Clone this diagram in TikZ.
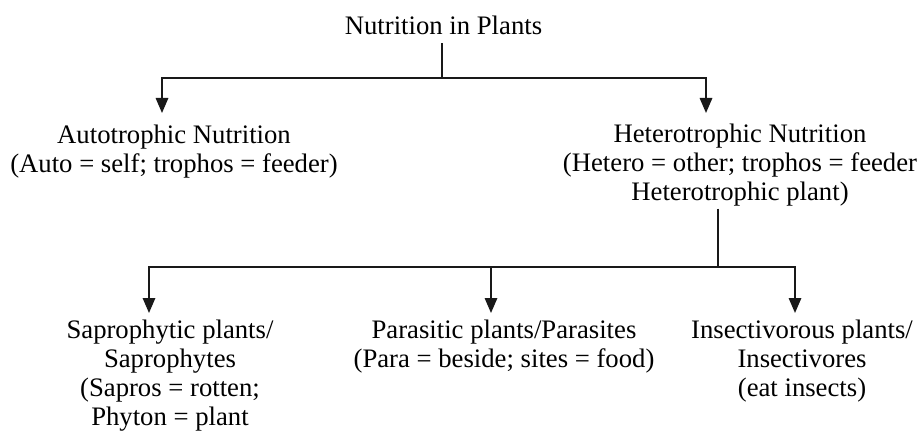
\documentclass[tikz,border=0pt]{standalone}
\usepackage{fontspec}
\setmainfont{Liberation Serif}
\usetikzlibrary{arrows.meta}
\tikzset{
  lbl/.style={anchor=north, inner sep=0pt, align=center, text=black,
    font=\fontsize{26.7}{29.2}\selectfont},
  link/.style={line width=1.6pt, draw=black!90},
  arr/.style={link, -{Triangle[length=15pt,width=12.5pt]}}
}
\begin{document}
\begin{tikzpicture}[x=1pt,y=-1pt]
\useasboundingbox (0,0) rectangle (917,438);
% nodes (north = first baseline - strut height 20.44)
\node[lbl] (title) at (443.5,13.6) {\strut Nutrition in Plants};
\node[lbl] (auto) at (174,122.6) {\strut Autotrophic Nutrition\\(Auto = self; trophos = feeder)};
\node[lbl] (het) at (740,121.6) {\strut Heterotrophic Nutrition\\(Hetero = other; trophos = feeder\\Heterotrophic plant)};
\node[lbl] (sap) at (170,317.6) {\strut Saprophytic plants/\\Saprophytes\\(Sapros = rotten;\\Phyton = plant};
\node[lbl] (par) at (504,317.6) {\strut Parasitic plants/Parasites\\(Para = beside; sites = food)};
\node[lbl] (ins) at (802,317.6) {\strut Insectivorous plants/\\Insectivores\\(eat insects)};
% junctions and arrow ends
\coordinate (jt) at (442,78);
\coordinate (aL) at (162,113);
\coordinate (aR) at (706,113);
\coordinate (jb) at (718,267);
\coordinate (bL) at (149,313);
\coordinate (bM) at (491,313);
\coordinate (bR) at (795,313);
% connectors
\draw[link] (title.south -| jt) -- (jt);
\draw[arr] (jt) -| (aL);
\draw[arr] (jt) -| (aR);
\draw[link, shorten <=2pt] (het.south -| jb) -- (jb);
\draw[arr] (jb) -| (bL);
\draw[arr] (jb -| bM) -- (bM);
\draw[arr] (jb) -| (bR);
\end{tikzpicture}
\end{document}
